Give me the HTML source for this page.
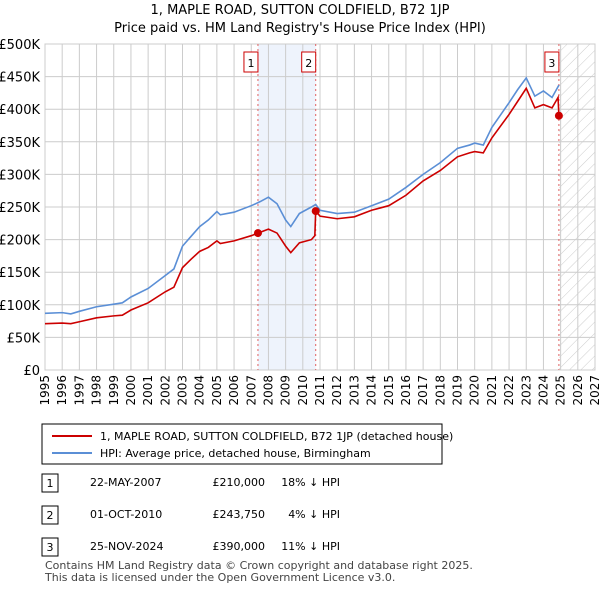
<!DOCTYPE html>
<html><head><meta charset="utf-8"><style>
body{margin:0;background:#fff;font-family:"Liberation Sans","DejaVu Sans",sans-serif;}
svg text{font-family:"DejaVu Sans","Liberation Sans",sans-serif;}
</style></head><body>
<svg id="c" width="600" height="590" xmlns="http://www.w3.org/2000/svg">
<defs><pattern id="h" width="8" height="8" patternUnits="userSpaceOnUse" patternTransform="rotate(45)"><line x1="0" y1="0" x2="0" y2="8" stroke="#ccc" stroke-width="1"/></pattern></defs>
<text x="300" y="14" text-anchor="middle" font-size="13">1, MAPLE ROAD, SUTTON COLDFIELD, B72 1JP</text>
<text x="300" y="32" text-anchor="middle" font-size="13">Price paid vs. HM Land Registry's House Price Index (HPI)</text>
<g id="grid"></g><g id="series"></g>
<rect x="42" y="424" width="400" height="40" fill="#fff" stroke="#000"/>
<line x1="52" y1="436" x2="92" y2="436" stroke="#cc0000" stroke-width="2"/>
<text x="100" y="440" font-size="11">1, MAPLE ROAD, SUTTON COLDFIELD, B72 1JP (detached house)</text>
<line x1="52" y1="453" x2="92" y2="453" stroke="#5b8fd6" stroke-width="2"/>
<text x="100" y="457" font-size="11">HPI: Average price, detached house, Birmingham</text>
<g font-size="11">
<rect x="42" y="474" width="16" height="18" fill="#fff" stroke="#000"/><text x="50" y="487" text-anchor="middle">1</text>
<text x="90" y="486">22-MAY-2007</text><text x="265" y="486" text-anchor="end">£210,000</text><text x="340" y="486" text-anchor="end">18% ↓ HPI</text>
<rect x="42" y="506" width="16" height="18" fill="#fff" stroke="#000"/><text x="50" y="519" text-anchor="middle">2</text>
<text x="90" y="518">01-OCT-2010</text><text x="265" y="518" text-anchor="end">£243,750</text><text x="340" y="518" text-anchor="end">4% ↓ HPI</text>
<rect x="42" y="538" width="16" height="18" fill="#fff" stroke="#000"/><text x="50" y="551" text-anchor="middle">3</text>
<text x="90" y="550">25-NOV-2024</text><text x="265" y="550" text-anchor="end">£390,000</text><text x="340" y="550" text-anchor="end">11% ↓ HPI</text>
</g>
<text x="45" y="569" font-size="11" fill="#444">Contains HM Land Registry data © Crown copyright and database right 2025.</text>
<text x="45" y="581" font-size="11" fill="#444">This data is licensed under the Open Government Licence v3.0.</text>
</svg>
<script>
const hpiDates=[1995,1996,1996.5,1997,1998,1999,1999.5,2000,2001,2002,2002.5,2003,2003.5,2004,2004.5,2005,2005.2,2006,2007,2007.5,2008,2008.5,2009,2009.3,2009.8,2010.5,2010.75,2011,2012,2013,2014,2015,2016,2017,2018,2019,2019.7,2020,2020.5,2021,2022,2022.5,2023,2023.5,2024,2024.5,2024.9];
const hpiValues=[87,88,86,90,97,101,103,112,125,145,155,190,205,220,230,243,238,242,252,258,265,255,230,220,240,250,254,245,240,242,252,262,280,300,318,340,345,348,345,372,410,430,448,420,428,418,437];
const priceDates=[1995,1996,1996.5,1997,1998,1999,1999.5,2000,2001,2002,2002.5,2003,2003.5,2004,2004.5,2005,2005.2,2006,2007,2007.39,2008,2008.5,2009,2009.3,2009.8,2010.5,2010.7,2010.75,2011,2012,2013,2014,2015,2016,2017,2018,2019,2019.7,2020,2020.5,2021,2022,2022.5,2023,2023.5,2024,2024.5,2024.85,2024.9];
const priceValues=[71,72,71,74,80,83,84,92,103,120,127,157,170,182,188,198,194,198,206,210,216,210,190,180,195,200,206,243.75,236,232,235,245,252,268,290,306,327,333,335,333,356,392,412,432,402,407,402,418,390];
const saleDates=[2007.39,2010.75,2024.9];
const saleValues=[210000,243750,390000];
const saleLabels=["1","2","3"];
const yTicks=[0,50,100,150,200,250,300,350,400,450,500];
const yTickLabels=["£0","£50K","£100K","£150K","£200K","£250K","£300K","£350K","£400K","£450K","£500K"];
const xTicks=[1995,1996,1997,1998,1999,2000,2001,2002,2003,2004,2005,2006,2007,2008,2009,2010,2011,2012,2013,2014,2015,2016,2017,2018,2019,2020,2021,2022,2023,2024,2025,2026,2027];
const L=45,R=595,T=44,B=370;
const X=d=>L+(d-1995)/32*(R-L);
const Y=v=>B-v/500*(B-T);
const NS="http://www.w3.org/2000/svg";
function mk(p,t,a){const e=document.createElementNS(NS,t);for(const k in a)e.setAttribute(k,a[k]);p.appendChild(e);return e;}
const g=document.getElementById('grid'),s=document.getElementById('series');
// shaded band between sale 1 and 2
let band=mk(g,'rect',{x:X(saleDates[0]),y:T,width:X(saleDates[1])-X(saleDates[0]),height:B-T,fill:'#eef3fc'});


let hat=mk(g,'rect',{x:X(saleDates[2]),y:T,width:R-X(saleDates[2]),height:B-T,fill:'url(#h)'});


yTicks.forEach((v,i)=>{
 const l=mk(g,'line',{x1:L,x2:R,y1:Y(v),y2:Y(v),stroke:'#ccc'});
 
 
 const t=mk(g,'text',{x:40,y:Y(v)+5,'text-anchor':'end','font-size':13});
 
 
 t.textContent=yTickLabels[i];
});
xTicks.forEach(d=>{
 const l=mk(g,'line',{x1:X(d),x2:X(d),y1:T,y2:B,stroke:'#ccc'});
 
 
 const t=mk(g,'text',{x:0,y:0,'text-anchor':'end','font-size':12,transform:`translate(${X(d)+4},${B+5}) rotate(-90)`});
 
 
 t.textContent=d;
});
const fr=mk(g,'rect',{x:L,y:T,width:R-L,height:B-T,fill:'none',stroke:'#ccc'});


saleDates.forEach((d,i)=>{
 const l=mk(s,'line',{x1:X(d),x2:X(d),y1:T,y2:B,stroke:'#e06060','stroke-dasharray':'2,3'});
 
 
 const r=mk(s,'rect',{x:X(d)-14,y:T+8,width:14,height:20,fill:'#fff',stroke:'#cc0000'});
 
 
 const t=mk(s,'text',{x:X(d)-7,y:T+23,'text-anchor':'middle','font-size':11});
 
 
 t.textContent=saleLabels[i];
});
const hp=mk(s,'polyline',{points:hpiDates.map((d,i)=>X(d)+','+Y(hpiValues[i])).join(' '),fill:'none',stroke:'#5b8fd6','stroke-width':1.6});


const pp=mk(s,'polyline',{points:priceDates.map((d,i)=>X(d)+','+Y(priceValues[i])).join(' '),fill:'none',stroke:'#cc0000','stroke-width':1.6});


saleDates.forEach((d,i)=>{
 const c=mk(s,'circle',{cx:X(d),cy:Y(saleValues[i]/1000),r:4,fill:'#cc0000'});
 
 
});
</script>
</body></html>
